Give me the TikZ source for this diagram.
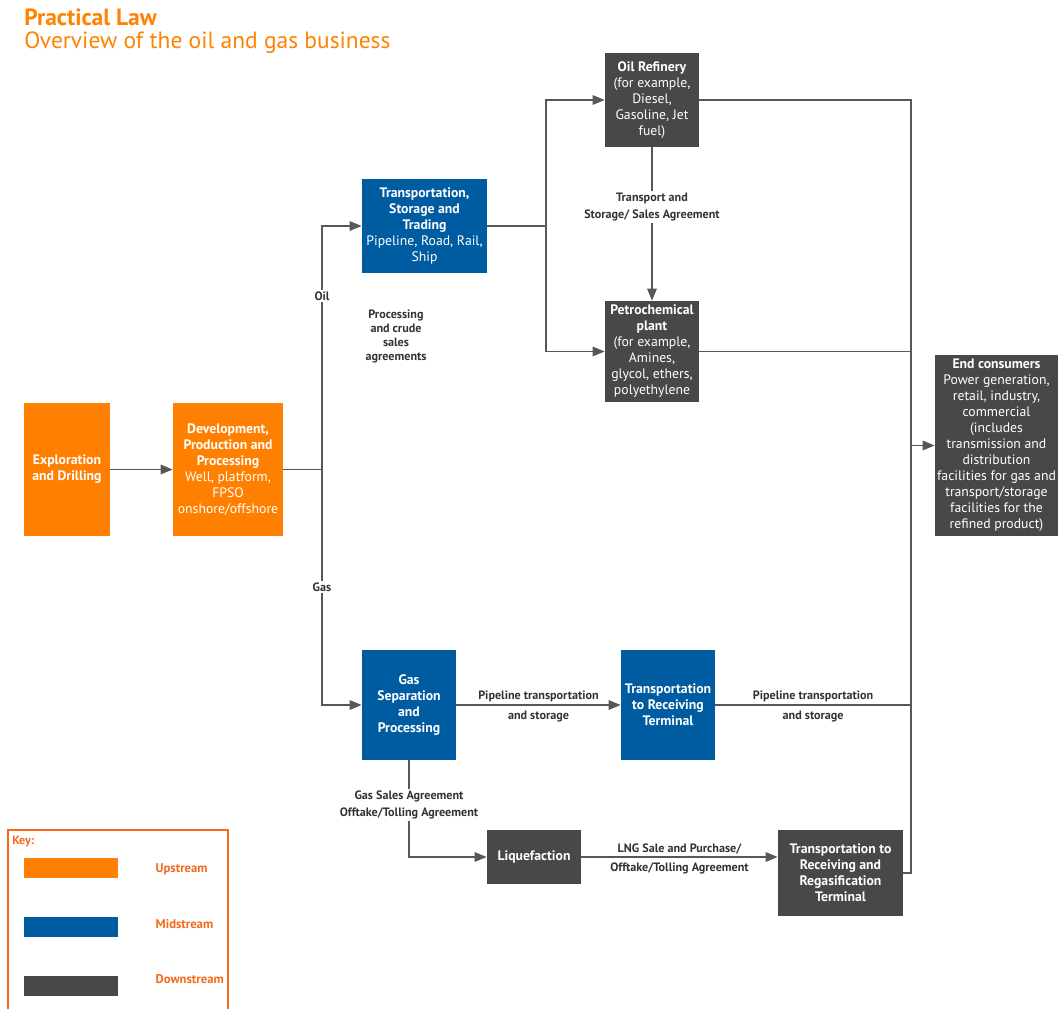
\documentclass[tikz,border=0pt]{standalone}
\usepackage{fontspec}
\setmainfont{PT Sans}
\usetikzlibrary{arrows.meta}
\definecolor{upcol}{HTML}{FF8000}
\definecolor{midcol}{HTML}{005CA1}
\definecolor{downcol}{HTML}{484848}
\definecolor{linecol}{HTML}{575757}
\definecolor{labcol}{HTML}{333333}
\definecolor{keycol}{HTML}{F26A1B}
\definecolor{titlecol}{HTML}{FF8200}
\begin{document}
\begin{tikzpicture}[x=0.75pt,y=-0.75pt,
    dims/.style 2 args={minimum width=#1*0.75pt,minimum height=#2*0.75pt},
    stage/.style={text=white,align=center,inner sep=1pt,font=\fontsize{10.3}{12}\selectfont},
    up/.style={stage,fill=upcol},
    mid/.style={stage,fill=midcol},
    down/.style={stage,fill=downcol},
    flow/.style={draw=linecol,line width=1.4pt},
    arr/.style={flow,-{Triangle[length=9pt,width=7pt]}},
    lab/.style={text=labcol,align=center,inner sep=1.5pt,font=\bfseries\fontsize{9.1}{12.5}\selectfont},
    keylab/.style={text=keycol,anchor=west,font=\bfseries\fontsize{9.5}{10}\selectfont}]
  \useasboundingbox (0,0) rectangle (1058,1009);

  % title
  \node[anchor=base west,text=titlecol,inner sep=0pt,font=\bfseries\fontsize{17.6}{18}\selectfont] (title) at (24,26) {Practical Law};
  \node[anchor=base west,text=titlecol,inner sep=0pt,font=\fontsize{17.6}{18}\selectfont] (subtitle) at (24,49) {Overview of the oil and gas business};

  % stages
  \node[up,dims={86}{133}] (explore) at (67,469.5) {\textbf{Exploration}\\\textbf{and Drilling}};
  \node[up,dims={110}{133}] (develop) at (228,469.5) {\textbf{Development,}\\\textbf{Production and}\\\textbf{Processing}\\Well, platform,\\FPSO\\onshore/offshore};
  \node[mid,dims={125}{94}] (trade) at (424.5,226) {\textbf{Transportation,}\\\textbf{Storage and}\\\textbf{Trading}\\Pipeline, Road, Rail,\\Ship};
  \node[down,dims={94}{94}] (refinery) at (652,100) {\textbf{Oil Refinery}\\(for example,\\Diesel,\\Gasoline, Jet\\fuel)};
  \node[down,dims={94}{101}] (petro) at (652,351.5) {\textbf{Petrochemical}\\\textbf{plant}\\(for example,\\Amines,\\glycol, ethers,\\polyethylene};
  \node[down,dims={123}{181}] (consumers) at (996.5,445.5) {\textbf{End consumers}\\Power generation,\\retail, industry,\\commercial\\(includes\\transmission and\\distribution\\facilities for gas and\\transport/storage\\facilities for the\\refined product)};
  \node[mid,dims={94}{110}] (gassep) at (409,705) {\textbf{Gas}\\\textbf{Separation}\\\textbf{and}\\\textbf{Processing}};
  \node[mid,dims={94}{110}] (receive) at (668,705) {\textbf{Transportation}\\\textbf{to Receiving}\\\textbf{Terminal}};
  \node[down,dims={94}{54}] (liquefy) at (534,857) {\textbf{Liquefaction}};
  \node[down,dims={125}{86}] (regas) at (840.5,873) {\textbf{Transportation to}\\\textbf{Receiving and}\\\textbf{Regasification}\\\textbf{Terminal}};

  % junctions
  \coordinate (split) at (322,469.5);
  \coordinate (fork) at (546,226);
  \coordinate (busTop) at (911,100);
  \coordinate (busBot) at (911,873);

  % upstream
  \draw[arr] (explore) -- (develop);
  \draw[flow] (develop) -- (split);
  \draw[arr] (split) |- (trade);
  \draw[arr] (split) |- (gassep);
  \node[lab,fill=white] (oil) at (322,296) {Oil};
  \node[lab,fill=white] (gas) at (322,587) {Gas};
  \node[lab,font=\bfseries\fontsize{9.1}{10.5}\selectfont] (crude) at (396,336) {Processing\\and crude\\sales\\agreements};

  % oil side
  \draw[flow] (trade) -- (fork);
  \draw[arr] (fork) |- (refinery);
  \draw[arr] (fork) |- (petro);
  \draw[arr] (refinery) -- node[lab,fill=white,pos=0.39] {Transport and\\Storage/ Sales Agreement} (petro);

  % gas side
  \draw[arr] (gassep) -- node[lab,above] {Pipeline transportation} node[lab,below=2pt] {and storage} (receive);
  \draw[arr] (gassep) |- node[lab,fill=white,pos=0.23] {Gas Sales Agreement\\Offtake/Tolling Agreement} (liquefy);
  \draw[arr] (liquefy) -- node[lab,above] {LNG Sale and Purchase/} node[lab,below=2pt] {Offtake/Tolling Agreement} (liquefy -| regas.west);

  % to end consumers
  \draw[flow] (refinery) -- (busTop) -- (busBot) -- (regas);
  \draw[flow] (petro) -- (petro -| busTop);
  \draw[flow] (receive) -- node[lab,above] {Pipeline transportation} node[lab,below=2pt] {and storage} (receive -| busTop);
  \draw[arr] (consumers -| busTop) -- (consumers);

  % key
  \draw[keycol,line width=1pt] (8,1015) |- (228,830) -- (228,1015);
  \node[anchor=west,text=keycol,inner sep=0pt,font=\bfseries\fontsize{9}{10}\selectfont] (keytitle) at (12,842) {Key:};
  \node[fill=upcol,dims={94}{20},inner sep=0pt] (keyup) at (71,868) {};
  \node[fill=midcol,dims={94}{20},inner sep=0pt] (keymid) at (71,927) {};
  \node[fill=downcol,dims={94}{20},inner sep=0pt] (keydown) at (71,986) {};
  \node[keylab] (keyuplab) at (151,869) {Upstream};
  \node[keylab] (keymidlab) at (151,924) {Midstream};
  \node[keylab] (keydownlab) at (151,979) {Downstream};
\end{tikzpicture}
\end{document}
